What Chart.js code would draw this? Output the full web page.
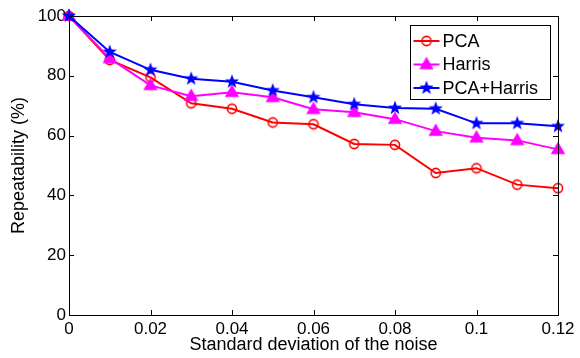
<!DOCTYPE html>
<html>
<head>
<meta charset="utf-8">
<script src="https://cdn.jsdelivr.net/npm/chart.js@4"></script>
<style>
  html, body { margin: 0; padding: 0; background: #fff; }
  #wrap { width: 580px; height: 358px; }
</style>
</head>
<body>
<div id="wrap"><canvas id="chart" width="580" height="358"></canvas></div>
<script>
const noiseLevels = [0, 0.01, 0.02, 0.03, 0.04, 0.05, 0.06, 0.07, 0.08, 0.09, 0.1, 0.11, 0.12];
const pcaValues = [100, 85.3, 79.5, 70.8, 69, 64.4, 63.8, 57.2, 56.9, 47.5, 49.1, 43.6, 42.4];
const harrisValues = [100, 85.8, 76.8, 73.2, 74.5, 72.8, 68.8, 67.8, 65.5, 61.5, 59.3, 58.4, 55.4];
const bothValues = [100, 88, 82, 79, 78, 75.1, 72.8, 70.5, 69.2, 69, 64.1, 64.1, 63.1];
const seriesLabels = ['PCA', 'Harris', 'PCA+Harris'];

const FONT = '"Liberation Sans", Arial, sans-serif';

// markers as small canvases so chart and legend use the same thing
function makeMarker(kind, color) {
  const s = 18, c = s / 2;
  const cv = document.createElement('canvas');
  cv.width = s; cv.height = s;
  const ctx = cv.getContext('2d');
  ctx.strokeStyle = color;
  ctx.fillStyle = color;
  ctx.lineWidth = 1.6;
  ctx.beginPath();
  if (kind === 'circle') {
    ctx.arc(c, c, 4.6, 0, Math.PI * 2);
    ctx.stroke();
  } else if (kind === 'triangle') {
    const r = 6.2;
    ctx.moveTo(c, c - r);
    ctx.lineTo(c + r * 0.94, c + r * 0.62);
    ctx.lineTo(c - r * 0.94, c + r * 0.62);
    ctx.closePath();
    ctx.fill();
    ctx.stroke();
  } else {
    const ro = 7.4, ri = 3.1;
    for (let i = 0; i < 10; i++) {
      const r = i % 2 ? ri : ro;
      const a = -Math.PI / 2 + i * Math.PI / 5;
      ctx.lineTo(c + r * Math.cos(a), c + r * Math.sin(a));
    }
    ctx.closePath();
    ctx.fill();
  }
  return cv;
}

const colors = ['#ff0000', '#ff00ff', '#0000ff'];
const markers = [
  makeMarker('circle', colors[0]),
  makeMarker('triangle', colors[1]),
  makeMarker('star', colors[2]),
];

function toPoints(vals) {
  return vals.map((v, i) => ({ x: noiseLevels[i], y: v }));
}

// matlab style box, inward ticks and legend
const boxPlugin = {
  id: 'box',
  afterDatasetsDraw(chart) {
    const { ctx, chartArea: a, scales } = chart;
    ctx.save();
    ctx.strokeStyle = '#000';
    ctx.lineWidth = 1;
    ctx.beginPath();
    const t = 5;
    scales.x.ticks.forEach(tk => {
      const px = Math.round(scales.x.getPixelForValue(tk.value)) + 0.5;
      ctx.moveTo(px, a.bottom); ctx.lineTo(px, a.bottom - t);
      ctx.moveTo(px, a.top); ctx.lineTo(px, a.top + t);
    });
    scales.y.ticks.forEach(tk => {
      const py = Math.round(scales.y.getPixelForValue(tk.value)) + 0.5;
      ctx.moveTo(a.left, py); ctx.lineTo(a.left + t, py);
      ctx.moveTo(a.right, py); ctx.lineTo(a.right - t, py);
    });
    ctx.stroke();
    ctx.strokeRect(Math.round(a.left) + 0.5, Math.round(a.top) + 0.5,
      Math.round(a.right - a.left), Math.round(a.bottom - a.top));

    // legend
    const lx = 410.5, ly = 25.5, lw = 140, lh = 74;
    ctx.fillStyle = '#fff';
    ctx.fillRect(lx, ly, lw, lh);
    ctx.strokeRect(lx, ly, lw, lh);
    ctx.font = '18px ' + FONT;
    ctx.textBaseline = 'middle';
    seriesLabels.forEach((lab, i) => {
      const y = ly + 15.5 + i * 23.5;
      ctx.strokeStyle = colors[i];
      ctx.lineWidth = 2;
      ctx.beginPath();
      ctx.moveTo(lx + 3, y); ctx.lineTo(lx + 29, y);
      ctx.stroke();
      const m = markers[i];
      ctx.drawImage(m, lx + 16 - m.width / 2, y - m.height / 2);
      ctx.fillStyle = '#000';
      ctx.fillText(lab, lx + 32, y + 1);
    });
    ctx.restore();
  }
};

const datasets = [pcaValues, harrisValues, bothValues].map((vals, i) => ({
  label: seriesLabels[i],
  data: toPoints(vals),
  borderColor: colors[i],
  backgroundColor: colors[i],
  borderWidth: 2,
  pointStyle: markers[i],
  pointRadius: 6,
  tension: 0,
  clip: false,
  order: 2 - i,
}));

new Chart(document.getElementById('chart'), {
  type: 'line',
  data: { datasets },
  plugins: [boxPlugin],
  options: {
    responsive: false,
    animation: false,
    events: [],
    layout: { padding: { top: 16, right: 22, left: 0, bottom: 0 } },
    plugins: {
      legend: { display: false },
      tooltip: { enabled: false },
    },
    scales: {
      x: {
        type: 'linear',
        min: 0,
        max: 0.12,
        grid: { display: false, drawTicks: false },
        border: { display: false },
        ticks: {
          stepSize: 0.02,
          padding: 4,
          color: '#000',
          font: { family: FONT, size: 17 },
          maxRotation: 0,
          callback: v => String(+v.toFixed(2)),
        },
        title: {
          display: true,
          text: 'Standard deviation of the noise',
          color: '#000',
          font: { family: FONT, size: 18 },
          padding: { top: 0, bottom: 2 },
        },
        afterFit(scale) { scale.height = 43; },
      },
      y: {
        min: 0,
        max: 100,
        grid: { display: false, drawTicks: false },
        border: { display: false },
        ticks: {
          stepSize: 20,
          padding: 3,
          color: '#000',
          font: { family: FONT, size: 17 },
        },
        title: {
          display: true,
          text: 'Repeatability (%)',
          color: '#000',
          font: { family: FONT, size: 18 },
          padding: { top: 8, bottom: 0 },
        },
        afterFit(scale) { scale.width = 69; },
      },
    },
  },
});
</script>
</body>
</html>
